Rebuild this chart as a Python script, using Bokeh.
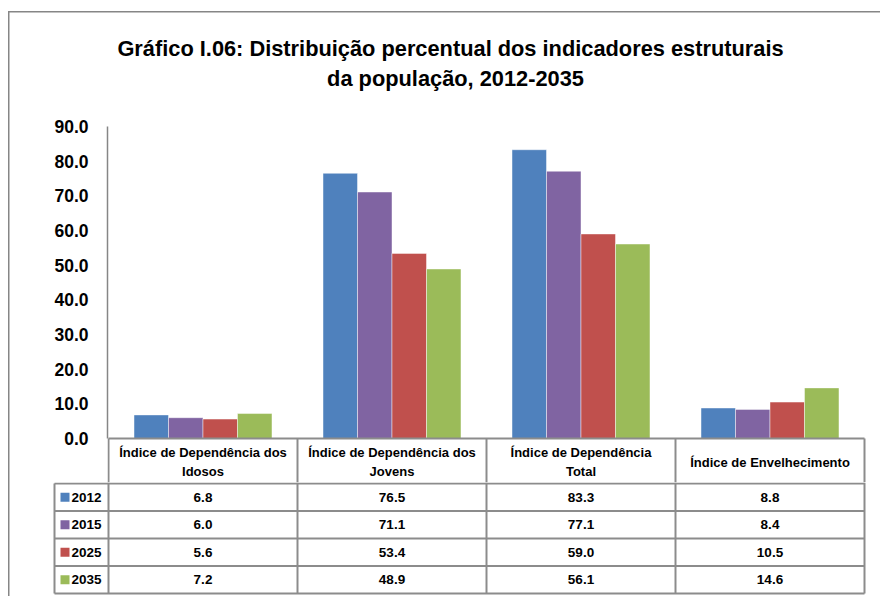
from bokeh.plotting import figure
from bokeh.layouts import column
from bokeh.models import Range1d, FixedTicker, PrintfTickFormatter, ColumnDataSource
from bokeh.core.properties import value
from bokeh.embed import file_html
from bokeh.resources import INLINE

# ---------------- data ----------------
categories = ["Índice de Dependência dos\nIdosos",
              "Índice de Dependência dos\nJovens",
              "Índice de Dependência\nTotal",
              "Índice de Envelhecimento"]
years = ["2012", "2015", "2025", "2035"]
v2012 = [6.8, 76.5, 83.3, 8.8]
v2015 = [6.0, 71.1, 77.1, 8.4]
v2025 = [5.6, 53.4, 59.0, 10.5]
v2035 = [7.2, 48.9, 56.1, 14.6]
series = [v2012, v2015, v2025, v2035]
y_ticks = [0, 10, 20, 30, 40, 50, 60, 70, 80, 90]
colors = ["#4F81BD", "#8064A2", "#C0504D", "#9BBB59"]
title_lines = ["Gráfico I.06: Distribuição percentual dos indicadores estruturais",
               "da população, 2012-2035"]

FONT = "Liberation Sans"
GRID = "#8c8c8c"
FRAME_COL = "#868686"

# ---------------- geometry (page pixels, layout starts at page 0,0) ----------------
W = 880
COL = 189.0             # pixels per category column
CAT0 = 108.0            # page x of the first category column
Y0, Y90 = 438.0, 126.0  # page y of values 0 and 90
SPLIT = 482             # page y where the two figures meet
BOT = 596               # page y of the bottom of the layout
K = (Y0 - Y90) / 90.0


def xd(px):
    return (px - CAT0) / COL


# ---------------- top figure: title, axis, bars, table header ----------------
F1_L, F1_R = 107, 866
p1 = figure(width=W, height=SPLIT,
            x_range=Range1d(xd(F1_L), xd(F1_R)),
            y_range=Range1d(-(SPLIT - Y0) / K, 90 + Y90 / K),
            output_backend="svg", toolbar_location=None, x_axis_location=None,
            min_border_left=F1_L, min_border_right=W - F1_R,
            min_border_top=0, min_border_bottom=0)
p1.frame_align = False
p1.extra_y_ranges = {"px": Range1d(start=SPLIT, end=0)}
p1.outline_line_color = None
p1.xgrid.visible = False
p1.ygrid.visible = False
p1.background_fill_color = None
p1.border_fill_color = None

# title (two centred lines)
p1.text(x=[xd(450), xd(455)], y=[48, 78], text=title_lines, y_range_name="px",
        text_font=value(FONT), text_font_size="21.8px", text_font_style="bold",
        text_align="center", text_baseline="middle", text_color="black")

ax = p1.yaxis[0]
ax.ticker = FixedTicker(ticks=y_ticks)
ax.formatter = PrintfTickFormatter(format="%.1f")
ax.bounds = (0, 90)
ax.axis_line_color = FRAME_COL
ax.axis_line_width = 1.5
ax.major_tick_line_color = None
ax.minor_tick_line_color = None
ax.major_tick_out = 0
ax.major_tick_in = 0
ax.major_label_standoff = 19
ax.major_label_text_font = FONT
ax.major_label_text_font_size = "17.5px"
ax.major_label_text_font_style = "bold"
ax.major_label_text_color = "black"

BW = 0.1825
for j, vals in enumerate(series):
    xs = [i + 0.5 + (j - 1.5) * BW for i in range(len(categories))]
    src = ColumnDataSource(dict(x=xs, top=vals))
    p1.vbar(x="x", top="top", width=BW, bottom=0, source=src,
            fill_color=colors[j], line_color="white", line_alpha=0.45, line_width=1)

# table header (page-pixel y units)
HEAD_T = 438
vx = [0, 1, 2, 3, 4]
p1.segment(x0=[0], y0=[HEAD_T], x1=[4], y1=[HEAD_T], y_range_name="px",
           line_color=GRID, line_width=2)
p1.segment(x0=vx, y0=[HEAD_T] * 5, x1=vx, y1=[SPLIT] * 5, y_range_name="px",
           line_color=GRID, line_width=2)
p1.text(x=[i + 0.5 for i in range(4)], y=[461.5] * 4, text=categories, y_range_name="px",
        text_font=value(FONT), text_font_size="13px", text_font_style="bold",
        text_align="center", text_baseline="middle", text_line_height=1.22, text_color="black")

# ---------------- bottom figure: data table rows ----------------
F2_L, F2_R = 52, 866
p2 = figure(width=W, height=BOT - SPLIT,
            x_range=Range1d(xd(F2_L), xd(F2_R)),
            y_range=Range1d(start=BOT, end=SPLIT),
            output_backend="svg", toolbar_location=None,
            x_axis_location=None, y_axis_location=None,
            min_border_left=F2_L, min_border_right=W - F2_R,
            min_border_top=0, min_border_bottom=0)
p2.frame_align = False
p2.outline_line_color = None
p2.xgrid.visible = False
p2.ygrid.visible = False
p2.background_fill_color = None
p2.border_fill_color = None

ROW0, ROWN = 483, 593
RH = (ROWN - ROW0) / 4.0
edges = [ROW0 + k * RH for k in range(5)]
LAB_L = xd(54)
p2.segment(x0=[LAB_L] * 5, y0=edges, x1=[4] * 5, y1=edges, line_color=GRID, line_width=2)
p2.segment(x0=[LAB_L] + vx, y0=[ROW0] + [SPLIT] * 5, x1=[LAB_L] + vx, y1=[ROWN] * 6,
           line_color=GRID, line_width=2)

for r, vals in enumerate(series):
    cy = (edges[r] + edges[r + 1]) / 2.0
    p2.text(x=[i + 0.5 for i in range(4)], y=[cy] * 4, text=["%.1f" % v for v in vals],
            text_font=value(FONT), text_font_size="13.5px", text_font_style="bold",
            text_align="center", text_baseline="middle", text_color="black")

cys = [(edges[r] + edges[r + 1]) / 2.0 for r in range(4)]
p2.scatter(x=[xd(64.5)] * 4, y=cys, marker="square", size=9, fill_color=colors, line_color=None)
p2.text(x=[xd(86)] * 4, y=cys, text=years, text_font=value(FONT), text_font_size="13.5px",
        text_font_style="bold", text_align="center", text_baseline="middle", text_color="black")

layout = column(p1, p2, spacing=0, styles={
    "background": ("linear-gradient(#868686, #868686) left 8px top 11px / 1.5px 100% no-repeat, "
                   "linear-gradient(#868686, #868686) left 8px top 11px / 100% 1.5px no-repeat"),
})

open("out.html", "w").write(file_html(layout, INLINE))
